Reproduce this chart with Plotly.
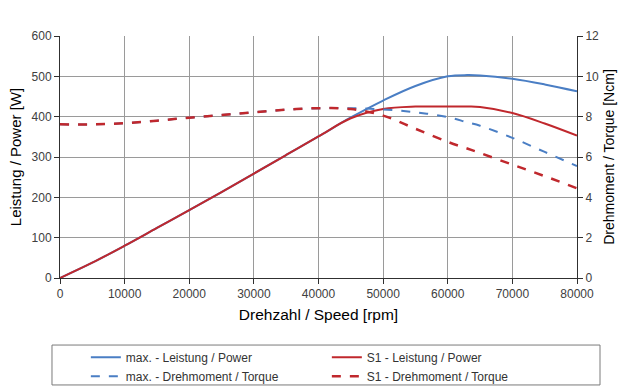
import plotly.graph_objects as go

speed = [0, 5000, 10000, 15000, 20000, 25000, 30000, 35000, 40000, 45000, 50000,
         55000, 60000, 63000, 65000, 70000, 75000, 80000]
max_power = [0, 38, 80, 124, 168, 213, 259, 305, 351, 398, 440, 476, 500, 503, 502, 494, 480, 463]
s1_power = [0, 38, 80, 124, 168, 213, 259, 305, 351, 396, 419, 425, 425, 425, 424, 409, 383, 353]
max_torque = [7.62, 7.62, 7.68, 7.8, 7.95, 8.08, 8.22, 8.35, 8.42, 8.42, 8.36, 8.22, 7.98, 7.72, 7.55, 6.95, 6.25, 5.55]
s1_torque = [7.62, 7.62, 7.68, 7.8, 7.95, 8.08, 8.22, 8.35, 8.42, 8.38, 8.05, 7.4, 6.75, 6.42, 6.2, 5.62, 5.05, 4.45]

x_ticks = [0, 10000, 20000, 30000, 40000, 50000, 60000, 70000, 80000]
left_ticks = [0, 100, 200, 300, 400, 500, 600]
right_ticks = [0, 2, 4, 6, 8, 10, 12]

BLUE = "#4A7EC4"
RED = "#C0282D"
FONT = "Liberation Sans, Arial, sans-serif"

fig = go.Figure()
fig.add_trace(go.Scatter(x=speed, y=max_power, name="max. - Leistung / Power",
                         mode="lines", line=dict(color=BLUE, width=2, shape="spline")))
fig.add_trace(go.Scatter(x=speed, y=s1_power, name="S1 - Leistung / Power",
                         mode="lines", line=dict(color=RED, width=2, shape="spline")))
fig.add_trace(go.Scatter(x=speed, y=max_torque, name="max. - Drehmoment / Torque", yaxis="y2",
                         mode="lines", line=dict(color=BLUE, width=2, dash="dash", shape="spline")))
fig.add_trace(go.Scatter(x=speed, y=s1_torque, name="S1 - Drehmoment / Torque", yaxis="y2",
                         mode="lines", line=dict(color=RED, width=2.5, dash="dash", shape="spline")))

axis_common = dict(showline=True, linecolor="#303030", linewidth=1, ticks="outside",
                   ticklen=5, tickcolor="#303030", tickfont=dict(size=12, color="#404040"),
                   zeroline=False)

fig.update_layout(
    width=629, height=390,
    margin=dict(l=60, r=52, t=36, b=112, autoexpand=False),
    paper_bgcolor="white", plot_bgcolor="white",
    font=dict(family=FONT, color="#000000"),
    xaxis=dict(range=[0, 80000], tickvals=x_ticks, tickformat="d",
               showgrid=True, gridcolor="#9a9a9a", gridwidth=1,
               title=dict(text="Drehzahl / Speed [rpm]", font=dict(size=15.5), standoff=8),
               **axis_common),
    yaxis=dict(range=[0, 600], tickvals=left_ticks, showgrid=True, gridcolor="#9a9a9a",
               title=dict(text="Leistung / Power [W]", font=dict(size=15), standoff=6),
               **axis_common),
    yaxis2=dict(range=[0, 12], tickvals=right_ticks, overlaying="y", side="right",
                showgrid=False,
                title=dict(text="Drehmoment / Torque [Ncm]", font=dict(size=14), standoff=6),
                **axis_common),
    showlegend=True,
    legend=dict(orientation="h", x=0.05, xanchor="left", y=-0.268, yanchor="top",
                entrywidth=196, entrywidthmode="pixels", traceorder="normal",
                font=dict(size=12, color="#333333"), bgcolor="rgba(0,0,0,0)",
                itemwidth=30, tracegroupgap=0),
    shapes=[dict(type="rect", xref="paper", yref="paper", x0=-0.0155, x1=1.0445,
                 y0=-0.442, y1=-0.277, line=dict(color="#7a7a7a", width=1),
                 fillcolor="rgba(0,0,0,0)", layer="below")],
)

fig.write_html("out.html", config={"displayModeBar": False},
               post_script="document.body.style.margin='0';document.body.style.overflow='hidden';")
